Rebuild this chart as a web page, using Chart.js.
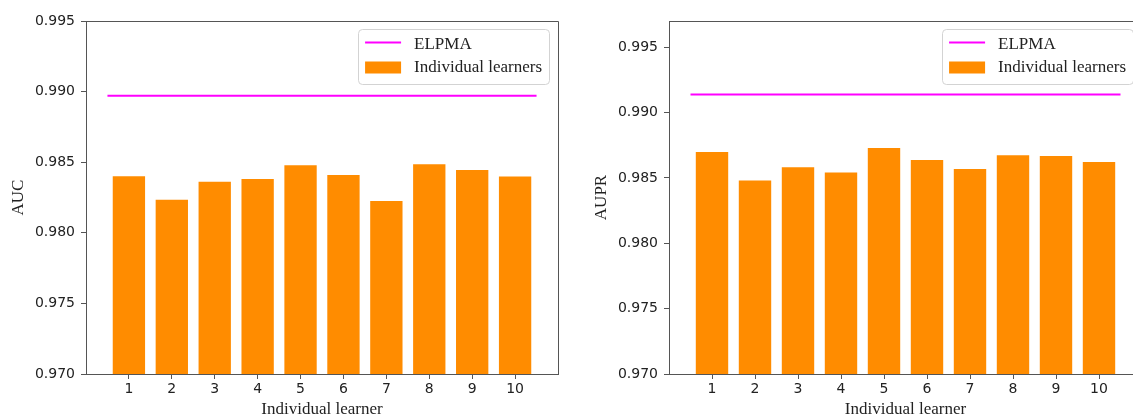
<!DOCTYPE html>
<html>
<head>
<meta charset="utf-8">
<script src="https://cdn.jsdelivr.net/npm/chart.js@4.4.1/dist/chart.umd.min.js"></script>
<style>
  html, body { margin: 0; padding: 0; background: #fff; overflow: hidden; width: 1133px; height: 417px; }
  canvas { position: absolute; top: 0; }
  #auc { left: 0; }
  #aupr { left: 583px; }
</style>
</head>
<body>
<canvas id="auc" width="566" height="417"></canvas>
<canvas id="aupr" width="570" height="417"></canvas>
<script>
// Individual learner indices (x axis)
const learners = [1, 2, 3, 4, 5, 6, 7, 8, 9, 10];

// AUC of each individual learner and of the ELPMA ensemble
const aucIndividual = [0.98407, 0.98241, 0.98369, 0.98388, 0.98485, 0.98416, 0.98232, 0.98492, 0.98452, 0.98405];
const aucElpma = 0.98971;

// AUPR of each individual learner and of the ELPMA ensemble
const auprIndividual = [0.98706, 0.98487, 0.98589, 0.98548, 0.98737, 0.98645, 0.98576, 0.98681, 0.98676, 0.98630];
const auprElpma = 0.99138;

// Value axis ranges and tick labels
const aucRange = [0.970, 0.995];
const auprRange = [0.970, 0.997];
const aucTicks = [0.970, 0.975, 0.980, 0.985, 0.990, 0.995];
const auprTicks = [0.970, 0.975, 0.980, 0.985, 0.990, 0.995];

const SPINE = '#555';
const TEXT = '#222';
const SANS = "'DejaVu Sans', sans-serif";
const SERIF = "'Liberation Serif', 'Times New Roman', serif";

const align = v => Math.round(v - 0.5) + 0.5;

// Closed box around the plotting area, drawn above the bars
const framePlugin = {
  id: 'frame',
  afterDatasetsDraw(chart) {
    const { ctx, chartArea: a } = chart;
    ctx.save();
    ctx.strokeStyle = SPINE;
    ctx.lineWidth = 1;
    ctx.beginPath();
    ctx.moveTo(align(a.left), align(a.bottom));
    ctx.lineTo(align(a.left), align(a.top));
    ctx.lineTo(align(a.right), align(a.top));
    ctx.lineTo(align(a.right), align(a.bottom));
    ctx.closePath();
    ctx.stroke();
    ctx.restore();
  }
};

// Legend box in the upper-right corner of the plotting area
const legendBoxPlugin = {
  id: 'legendBox',
  afterDraw(chart) {
    const { ctx, chartArea: a } = chart;
    const ds = chart.data.datasets;
    ctx.save();
    ctx.font = `17px ${SERIF}`;
    const textW = Math.max(...ds.map(d => ctx.measureText(d.label).width));
    const padL = 7, handle = 36, gap = 13, padR = 7;
    const w = padL + handle + gap + textW + padR;
    const h = 55;
    const x0 = a.right - 9 - w;
    const y0 = a.top + 8;
    ctx.beginPath();
    ctx.roundRect(align(x0), align(y0), Math.round(w), h, 4);
    ctx.fillStyle = 'rgba(255,255,255,0.8)';
    ctx.fill();
    ctx.strokeStyle = '#d3d3d3';
    ctx.lineWidth = 1;
    ctx.stroke();
    const rows = [y0 + 16, y0 + 38.5];
    ds.forEach((d, i) => {
      const cy = rows[i];
      const hx = x0 + padL;
      if (d.type === 'line') {
        ctx.strokeStyle = d.borderColor;
        ctx.lineWidth = d.borderWidth;
        ctx.beginPath();
        ctx.moveTo(hx, cy - 2.5);
        ctx.lineTo(hx + handle, cy - 2.5);
        ctx.stroke();
      } else {
        ctx.fillStyle = d.backgroundColor;
        ctx.fillRect(hx, cy - 6, handle, 12);
      }
      ctx.fillStyle = TEXT;
      ctx.textBaseline = 'middle';
      ctx.textAlign = 'left';
      ctx.fillText(d.label, hx + handle + gap, cy);
    });
    ctx.restore();
  }
};

function makeChart(id, yLabel, values, elpma, yRange, yTicks, rightPad) {
  const bars = learners.map((l, i) => ({ x: l, y: values[i] }));
  const span = [learners[0] - 0.5, learners[learners.length - 1] + 0.5];
  const axisGrid = { display: true, drawOnChartArea: false, drawTicks: true, tickLength: 5, tickColor: SPINE, offset: false };
  const axisBorder = { display: true, color: SPINE, width: 1 };
  return new Chart(document.getElementById(id), {
    type: 'bar',
    data: {
      datasets: [
        {
          type: 'line',
          label: 'ELPMA',
          data: span.map(x => ({ x, y: elpma })),
          borderColor: '#FF00FF',
          borderWidth: 2,
          pointRadius: 0,
          fill: false
        },
        {
          type: 'bar',
          label: 'Individual learners',
          data: bars,
          backgroundColor: '#FF8C00',
          borderColor: 'rgba(255,255,255,0.55)',
          borderWidth: 1,
          barPercentage: 0.8,
          categoryPercentage: 1.0
        }
      ]
    },
    options: {
      responsive: false,
      animation: false,
      devicePixelRatio: 1,
      layout: { padding: { top: 21, right: rightPad, left: 0, bottom: 0 } },
      plugins: { legend: { display: false }, tooltip: { enabled: false } },
      scales: {
        x: {
          type: 'linear',
          min: 0,
          max: learners.length + 1,
          offset: false,
          afterBuildTicks: s => { s.ticks = learners.map(v => ({ value: v })); },
          afterFit: s => { s.height = 43; },
          ticks: { font: { family: SANS, size: 14 }, color: TEXT, padding: 2, maxRotation: 0, autoSkip: false, callback: v => String(v) },
          grid: axisGrid,
          border: axisBorder,
          title: { display: true, text: 'Individual learner', font: { family: SERIF, size: 17, lineHeight: 0.88 }, color: TEXT, padding: 0 }
        },
        y: {
          type: 'linear',
          min: yRange[0],
          max: yRange[1],
          afterBuildTicks: s => { s.ticks = yTicks.map(v => ({ value: v })); },
          afterFit: s => { s.width = 86; },
          ticks: { font: { family: SANS, size: 14 }, color: TEXT, padding: 6, callback: v => v.toFixed(3) },
          grid: axisGrid,
          border: axisBorder,
          title: { display: true, text: yLabel, font: { family: SERIF, size: 17, lineHeight: 1 }, color: TEXT, padding: { top: 10.5, bottom: 0 } }
        }
      }
    },
    plugins: [framePlugin, legendBoxPlugin]
  });
}

makeChart('auc', 'AUC', aucIndividual, aucElpma, aucRange, aucTicks, 8);
makeChart('aupr', 'AUPR', auprIndividual, auprElpma, auprRange, auprTicks, 11);
</script>
</body>
</html>
